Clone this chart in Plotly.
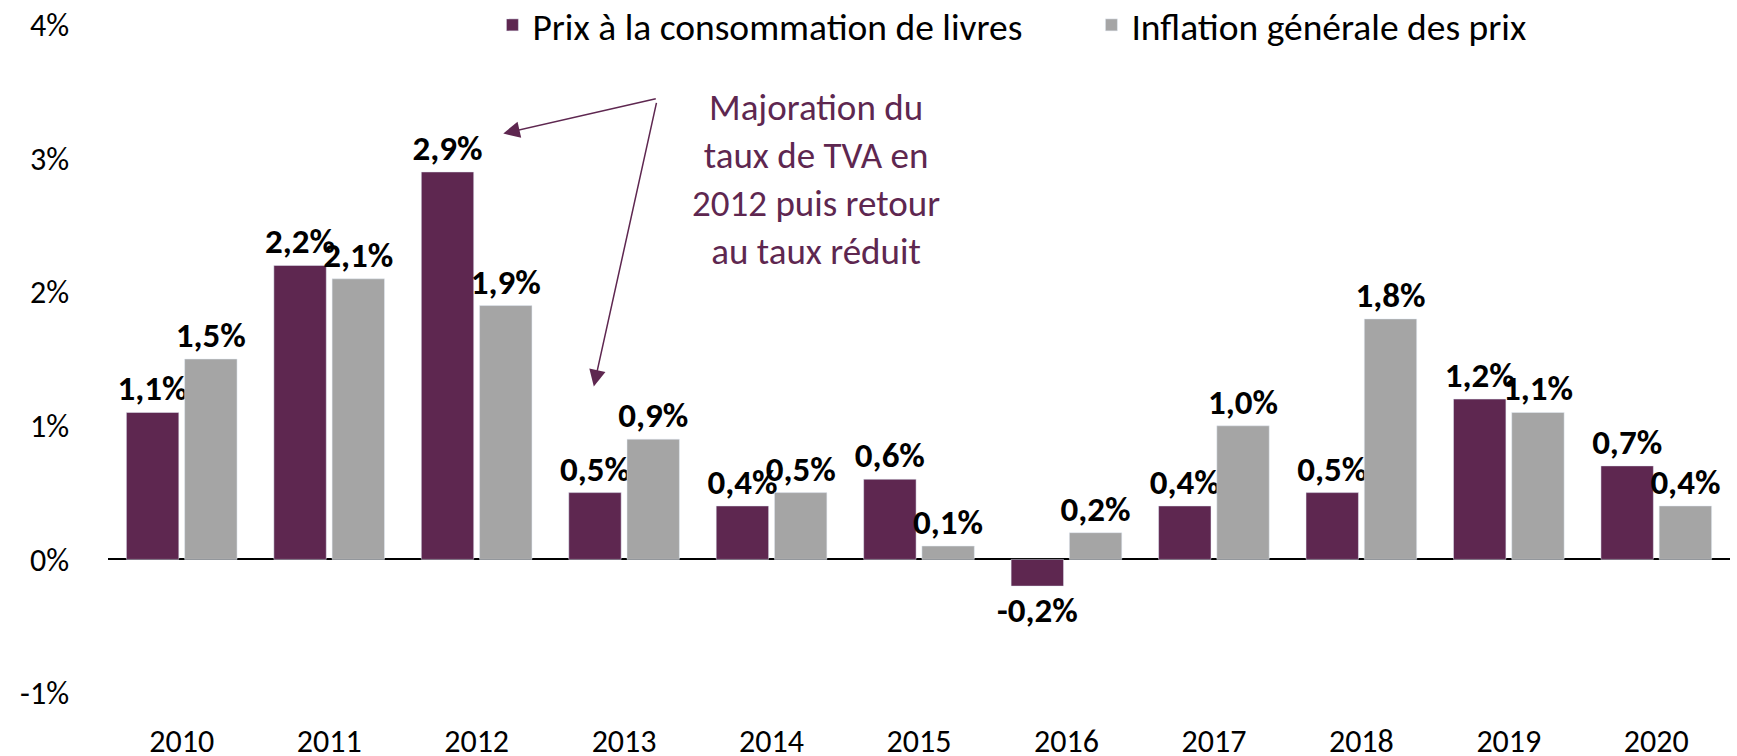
import plotly.graph_objects as go

years = ["2010", "2011", "2012", "2013", "2014", "2015", "2016", "2017", "2018", "2019", "2020"]
livres = [1.1, 2.2, 2.9, 0.5, 0.4, 0.6, -0.2, 0.4, 0.5, 1.2, 0.7]
inflation = [1.5, 2.1, 1.9, 0.9, 0.5, 0.1, 0.2, 1.0, 1.8, 1.1, 0.4]
series_names = ["Prix à la consommation de livres", "Inflation générale des prix"]
y_ticks = [-1, 0, 1, 2, 3, 4]
y_tick_labels = ["-1%", "0%", "1%", "2%", "3%", "4%"]
note = "Majoration du<br>taux de TVA en<br>2012 puis retour<br>au taux réduit"

PURPLE = "#5E2750"
GREY = "#A5A5A5"
FONT = "Carlito, Lato, sans-serif"

def fmt(v):
    return f"{v:.1f}".replace(".", ",") + "%"

fig = go.Figure()
for name, vals, col in [(series_names[0], livres, PURPLE), (series_names[1], inflation, GREY)]:
    fig.add_trace(go.Bar(
        x=years, y=vals, name=name, marker_color=col,
        text=[fmt(v) for v in vals], textposition="outside",
        textfont=dict(family=FONT, size=35, color="black", weight="bold"),
        constraintext="none", cliponaxis=False, hoverinfo="skip",
    ))

# annotation text
fig.add_annotation(
    text=note, xref="paper", yref="paper", x=0.4368, y=0.768, xanchor="center", yanchor="middle",
    showarrow=False, align="center",
    font=dict(family=FONT, size=37, color=PURPLE),
)
# arrows (head positions in paper coords, tails as pixel offsets)
fig.add_annotation(
    text="", xref="paper", yref="paper", x=0.2437, y=0.8376,
    ax=154, ay=-35, showarrow=True, arrowhead=2, arrowsize=2.2, arrowwidth=1.5,
    arrowcolor=PURPLE, standoff=0,
)
fig.add_annotation(
    text="", xref="paper", yref="paper", x=0.2995, y=0.4590,
    ax=63, ay=-285, showarrow=True, arrowhead=2, arrowsize=2.2, arrowwidth=1.5,
    arrowcolor=PURPLE, standoff=0,
)

fig.update_layout(
    width=1737, height=756,
    margin=dict(l=108, r=7, t=25, b=63, autoexpand=False),
    paper_bgcolor="white", plot_bgcolor="white",
    barmode="group", bargap=0.21, bargroupgap=0.1,
    font=dict(family=FONT, size=32, color="black"),
    showlegend=True,
    legend=dict(orientation="h", x=0.237, y=1.0, xanchor="left", yanchor="middle",
                font=dict(family=FONT, size=37.5, color="black"),
                bgcolor="rgba(0,0,0,0)", itemwidth=30, traceorder="normal",
                entrywidth=554, entrywidthmode="pixels"),
    xaxis=dict(showgrid=False, zeroline=False, showline=False, ticks="",
               tickfont=dict(family=FONT, size=32, color="black"), ticklabelstandoff=26,
               automargin=False),
    yaxis=dict(range=[-1, 4], tickvals=y_ticks, ticktext=y_tick_labels, showgrid=False,
               zeroline=True, zerolinecolor="black", zerolinewidth=2, showline=False,
               ticks="", tickfont=dict(family=FONT, size=32, color="black"),
               ticklabelstandoff=38, automargin=False),
)
fig.write_html("out.html", config={"displayModeBar": False},
               post_script="document.body.style.margin='0';document.body.style.overflow='hidden';")
